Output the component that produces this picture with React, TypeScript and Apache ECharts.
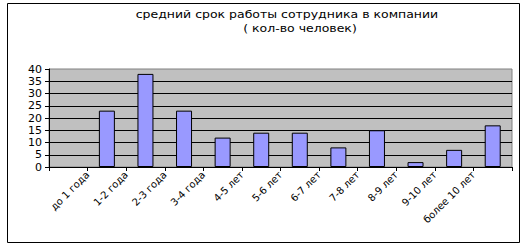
import React, { useEffect, useRef } from "react";
import * as echarts from "echarts";

const barSlots = ["s0", "s1", "s2", "s3", "s4", "s5", "s6", "s7", "s8", "s9", "s10", "s11"];
const barValues = [null, 23, 38, 23, 12, 14, 14, 8, 15, 2, 7, 17];
const tickLabels = [
  "",
  "до 1 года",
  "1-2 года",
  "2-3 года",
  "3-4 года",
  "4-5 лет",
  "5-6 лет",
  "6-7 лет",
  "7-8 лет",
  "8-9 лет",
  "9-10 лет",
  "более 10 лет",
  "",
];
const titleLine1 = "средний срок работы сотрудника в компании";
const titleLine2 = "( кол-во человек)";

export default function App() {
  const ref = useRef<HTMLDivElement>(null);
  useEffect(() => {
    if (!ref.current) return;
    const chart = echarts.init(ref.current, null, { renderer: "svg" });
    const font = "DejaVu Sans";
    chart.setOption({
      animation: false,
      textStyle: { fontFamily: font },
      grid: {
        left: 49,
        right: 16,
        top: 69,
        bottom: 81,
        show: true,
        backgroundColor: "#C0C0C0",
        borderColor: "#808080",
        borderWidth: 1,
      },
      graphic: [
        {
          type: "rect",
          shape: { x: 7.5, y: 3.5, width: 512, height: 239 },
          style: { fill: "none", stroke: "#000", lineWidth: 1 },
          silent: true,
        },
        {
          type: "text",
          x: 287,
          y: 15,
          scaleX: 1.25,
          style: {
            text: titleLine1,
            fontFamily: font,
            fontSize: 10,
            fill: "#000",
            textAlign: "center",
            textVerticalAlign: "middle",
          },
        },
        {
          type: "text",
          x: 300,
          y: 29,
          scaleX: 1.25,
          style: {
            text: titleLine2,
            fontFamily: font,
            fontSize: 10,
            fill: "#000",
            textAlign: "center",
            textVerticalAlign: "middle",
          },
        },
      ],
      xAxis: [
        {
          type: "category",
          data: barSlots,
          boundaryGap: true,
          axisLine: { lineStyle: { color: "#000", width: 1 } },
          axisTick: { show: true, length: 4, lineStyle: { color: "#000" } },
          axisLabel: { show: false },
          splitLine: { show: false },
        },
        {
          type: "category",
          data: tickLabels,
          boundaryGap: false,
          position: "bottom",
          axisLine: { show: false },
          axisTick: { show: false },
          axisLabel: {
            interval: 0,
            rotate: 45,
            margin: 6,
            fontSize: 10,
            fontFamily: font,
            color: "#000",
          },
          splitLine: { show: false },
        },
      ],
      yAxis: {
        type: "value",
        min: 0,
        max: 40,
        interval: 5,
        axisLine: { show: true, lineStyle: { color: "#000", width: 1 } },
        axisTick: { show: true, length: 4, lineStyle: { color: "#000" } },
        axisLabel: { fontSize: 11, fontFamily: font, color: "#000", margin: 7 },
        splitLine: { show: true, showMaxLine: false, lineStyle: { color: "#000", width: 1 } },
      },
      series: [
        {
          type: "bar",
          xAxisIndex: 0,
          data: barValues,
          barWidth: 16,
          itemStyle: { color: "#9999FF", borderColor: "#000", borderWidth: 1 },
        },
      ],
    });
    return () => chart.dispose();
  }, []);
  return (
    <div
      ref={ref}
      style={{ position: "absolute", left: 0, top: 0, width: 528, height: 248, background: "#fff" }}
    />
  );
}
